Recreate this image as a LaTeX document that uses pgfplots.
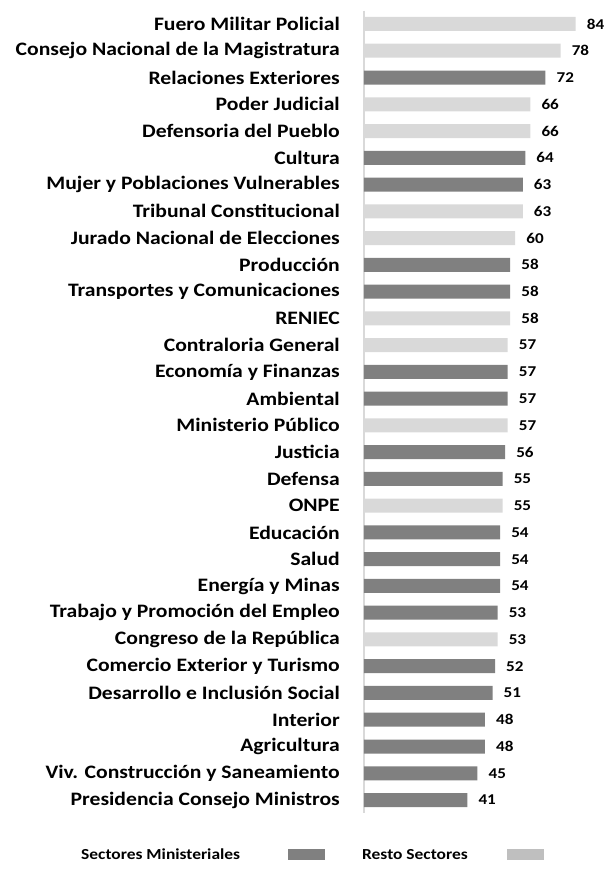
\documentclass[border=0pt]{standalone}
\usepackage{fontspec}
\setmainfont{Carlito}[FakeStretch=1.14]
\usepackage{pgfplots}
\pgfplotsset{compat=1.18}
\definecolor{dgray}{HTML}{808080}
\definecolor{lgray}{HTML}{D9D9D9}
\definecolor{lgleg}{HTML}{BFBFBF}
\definecolor{axgray}{HTML}{D9D9D9}
\begin{document}
\begin{tikzpicture}
\useasboundingbox (-364bp,-70.6bp) rectangle (240bp,813.4bp);
\begin{axis}[
  at={(0,0)}, anchor=south west,
  scale only axis, width=239.4bp, height=802.8bp,
  xbar, bar width=14bp,
  xmin=0, xmax=95, ymin=-0.5, ymax=29.5, y dir=reverse,
  axis x line=none, axis y line*=left,
  y axis line style={draw=axgray, line width=1.2bp},
  ytick={0,...,29},
  yticklabels={Fuero Militar Policial, Consejo Nacional de la Magistratura, Relaciones Exteriores, Poder Judicial, Defensoria del Pueblo, Cultura, Mujer y Poblaciones Vulnerables, Tribunal Constitucional, Jurado Nacional de Elecciones, Producción, Transportes y Comunicaciones, RENIEC, Contraloria General, Economía y Finanzas, Ambiental, Ministerio Público, Justicia, Defensa, ONPE, Educación, Salud, Energía y Minas, Trabajo y Promoción del Empleo, Congreso de la República, Comercio Exterior y Turismo, Desarrollo e Inclusión Social, Interior, Agricultura, Viv. Construcción y Saneamiento, Presidencia Consejo Ministros},
  ytick style={draw=none}, major tick length=0pt,
  yticklabel style={font=\bfseries\fontsize{19bp}{21bp}\selectfont, inner sep=0pt, anchor=east, xshift=-24bp},
  nodes near coords,
  /pgf/number format/assume math mode=true,
  nodes near coords style={font=\bfseries\fontsize{15bp}{16bp}\selectfont, anchor=west, inner sep=0pt, xshift=11bp, text=black},
  legend plot pos=right,
  legend columns=2,
  legend style={draw=none, fill=none, at={(-1.182,-0.0518)}, anchor=west, inner sep=0pt,
    nodes={inner sep=0pt, font=\bfseries\fontsize{15.3bp}{17bp}\selectfont},
    /tikz/every odd column/.append style={column sep=39bp},
    /tikz/every even column/.append style={column sep=37bp}},
]
\addplot[fill=dgray, draw=none, bar shift=0pt,
  legend image code/.code={\path (-9bp,0bp); \fill[dgray] (0bp,-5bp) rectangle (37bp,6bp);}]
  coordinates {(72,2) (64,5) (63,6) (58,9) (58,10) (57,13) (57,14) (56,16) (55,17) (54,19) (54,20) (54,21) (53,22) (52,24) (51,25) (48,26) (48,27) (45,28) (41,29)};
\addlegendentry{Sectores Ministeriales}
\addplot[fill=lgray, draw=none, bar shift=0pt,
  legend image code/.code={\fill[lgleg] (0bp,-5bp) rectangle (37bp,6bp);}]
  coordinates {(84,0) (78,1) (66,3) (66,4) (63,7) (60,8) (58,11) (57,12) (57,15) (55,18) (53,23)};
\addlegendentry{Resto Sectores}
\end{axis}
\end{tikzpicture}
\end{document}
